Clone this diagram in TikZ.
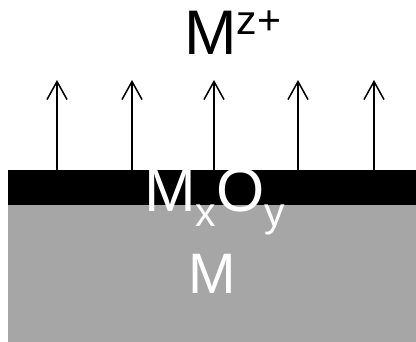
\documentclass[tikz,border=0pt]{standalone}
\usepackage{fontspec}
\setmainfont{Liberation Sans}
\usetikzlibrary{arrows.meta}

\newcommand{\sz}[1]{\fontsize{#1}{#1}\selectfont}

\begin{document}
\begin{tikzpicture}[x=1pt,y=-1pt]
  \useasboundingbox (0,0) rectangle (416,342);
  \coordinate (OL) at (8,170); \coordinate (OR) at (416,205); \coordinate (MR) at (416,342);
  \fill[black!35] (8,205) rectangle (MR);
  \fill[black] (OL) rectangle (OR);
  \foreach \x/\n in {57/a,132/b,214/c,298/d,374/e} {
    \coordinate (s\n) at (\x,170); \coordinate (t\n) at (\x,80);
    \draw[line width=1.5pt,-{Straight Barb[length=18pt,width=20pt]}] (s\n)--(t\n);
  }
  \node[anchor=base west,inner sep=0pt,font=\sz{63}] (ion) at (184,55) {M\raisebox{20pt}{\sz{41}z+}};
  \node[anchor=base west,inner sep=0pt,font=\sz{62},text=white] (oxide) at (144,212)
    {M\raisebox{-15pt}{\sz{41}x}O\raisebox{-15pt}{\sz{41}y}};
  \node[anchor=base west,inner sep=0pt,font=\sz{57},text=white] (metal) at (188,294) {M};
\end{tikzpicture}
\end{document}
